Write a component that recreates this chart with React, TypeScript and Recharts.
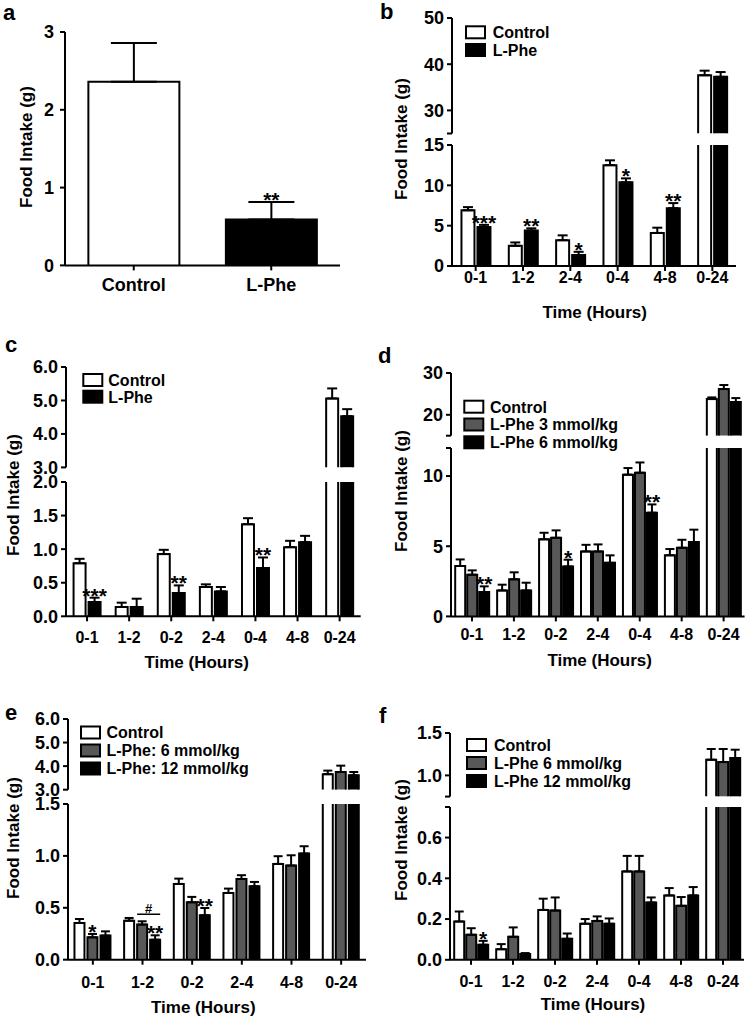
import React from 'react';
import { BarChart, Bar, XAxis, YAxis, ErrorBar } from 'recharts';

const FONT = '"Liberation Sans", Arial, Helvetica, sans-serif';
const WHITE = '#ffffff';
const GRAY = '#585858';
const BLACK = '#000000';

// ---------------- data ----------------
// Panel a
const aCategories = ['Control', 'L-Phe'];
const aMeans = [2.36, 0.59];
const aSem = [0.5, 0.225];
const aSig = ['', '**'];

// Panel b
const bCategories = ['0-1', '1-2', '2-4', '0-4', '4-8', '0-24'];
const bNames = ['Control', 'L-Phe'];
const bControl = [6.9, 2.5, 3.2, 12.5, 4.1, 37.6];
const bControlSem = [0.4, 0.42, 0.6, 0.6, 0.65, 1.0];
const bLPhe = [4.84, 4.39, 1.35, 10.37, 7.17, 37.26];
const bLPheSem = [0.26, 0.28, 0.41, 0.49, 0.63, 1.04];
const bLPheSig = ['***', '**', '*', '*', '**', ''];

// Panel c
const cCategories = ['0-1', '1-2', '0-2', '2-4', '0-4', '4-8', '0-24'];
const cNames = ['Control', 'L-Phe'];
const cControl = [0.79, 0.139, 0.926, 0.436, 1.371, 1.03, 5.06];
const cControlSem = [0.066, 0.064, 0.064, 0.04, 0.09, 0.094, 0.3];
const cLPhe = [0.213, 0.139, 0.347, 0.371, 0.718, 1.104, 4.53];
const cLPheSem = [0.064, 0.123, 0.113, 0.065, 0.158, 0.094, 0.21];
const cLPheSig = ['***', '', '**', '', '**', '', ''];

// Panel d
const dCategories = ['0-1', '1-2', '0-2', '2-4', '0-4', '4-8', '0-24'];
const dNames = ['Control', 'L-Phe 3 mmol/kg', 'L-Phe 6 mmol/kg'];
const dControl = [3.59, 1.85, 5.49, 4.63, 10.1, 4.35, 23.76];
const dControlSem = [0.47, 0.41, 0.47, 0.47, 0.47, 0.45, 0.4];
const dPhe3 = [2.97, 2.64, 5.6, 4.63, 10.24, 4.89, 26.16];
const dPhe3Sem = [0.31, 0.5, 0.53, 0.5, 0.73, 0.57, 0.96];
const dPhe6 = [1.73, 1.85, 3.56, 3.82, 7.39, 5.3, 23.04];
const dPhe6Sem = [0.41, 0.55, 0.48, 0.53, 0.59, 0.88, 0.96];
const dPhe6Sig = ['**', '', '*', '', '**', '', ''];

// Panel e
const eCategories = ['0-1', '1-2', '0-2', '2-4', '4-8', '0-24'];
const eNames = ['Control', 'L-Phe: 6 mmol/kg', 'L-Phe: 12 mmol/kg'];
const eControl = [0.354, 0.376, 0.73, 0.643, 0.923, 3.66];
const eControlSem = [0.038, 0.026, 0.051, 0.042, 0.074, 0.15];
const ePhe6 = [0.215, 0.338, 0.553, 0.778, 0.907, 3.75];
const ePhe6Sem = [0.033, 0.032, 0.052, 0.036, 0.099, 0.27];
const ePhe6Sig = ['*', '', '', '', '', ''];
const ePhe6vs12 = ['', '#', '', '', '', ''];
const ePhe12 = [0.232, 0.193, 0.428, 0.707, 1.023, 3.61];
const ePhe12Sem = [0.041, 0.042, 0.07, 0.042, 0.07, 0.14];
const ePhe12Sig = ['', '**', '**', '', '', ''];

// Panel f
const fCategories = ['0-1', '1-2', '0-2', '2-4', '0-4', '4-8', '0-24'];
const fNames = ['Control', 'L-Phe 6 mmol/kg', 'L-Phe 12 mmol/kg'];
const fControl = [0.188, 0.052, 0.245, 0.177, 0.434, 0.316, 1.185];
const fControlSem = [0.049, 0.025, 0.055, 0.023, 0.076, 0.036, 0.126];
const fPhe6 = [0.123, 0.113, 0.242, 0.191, 0.434, 0.265, 1.157];
const fPhe6Sem = [0.032, 0.046, 0.064, 0.022, 0.076, 0.043, 0.154];
const fPhe12 = [0.074, 0.028, 0.103, 0.177, 0.281, 0.316, 1.205];
const fPhe12Sem = [0.019, 0.005, 0.026, 0.026, 0.025, 0.041, 0.098];
const fPhe12Sig = ['*', '', '', '', '', '', ''];

// ---------------- helpers ----------------
type Series = {
  name: string;
  values: number[];
  errors: number[];
  sig?: string[];
  pair?: string[];
  fill: string | string[];
};

type Seg = {
  top: number;
  bottom: number;
  domain: [number, number];
  ticks: number[];
  labeled: number[];
};

function buildRows(categories: string[], series: Series[], seg: Seg, isUpper: boolean) {
  return categories.map((cat, i) => {
    const row: any = { cat, i };
    series.forEach((s, k) => {
      const v = s.values[i];
      const visible = isUpper ? v > seg.domain[0] : true;
      const errVisible = isUpper ? v > seg.domain[0] : v <= seg.domain[1];
      row[`v${k}`] = visible ? v : null;
      row[`e${k}`] = errVisible ? [0, s.errors[i]] : null;
      row[`g${k}`] = !isUpper && s.sig ? s.sig[i] : '';
      row[`p${k}`] = !isUpper && s.pair ? s.pair[i] : '';
    });
    return row;
  });
}

function makeBarShape(series: Series, k: number, base: number, barGap: number) {
  return (props: any) => {
    const { x, y, width, height, payload } = props;
    const v = payload ? payload[`v${k}`] : null;
    if (v == null || !(height > 0) || !(width > 0)) return <g />;
    const fill = Array.isArray(series.fill) ? series.fill[payload.i] : series.fill;
    const ppu = height / (v - base);
    const e = payload[`e${k}`];
    const errTop = e ? y - e[1] * ppu : y;
    const sig = payload[`g${k}`];
    const pair = payload[`p${k}`];
    return (
      <g>
        <rect x={x} y={y} width={width} height={height} fill={fill} stroke="none" />
        <path
          d={`M${x},${y + height} L${x},${y} L${x + width},${y} L${x + width},${y + height}`}
          fill="none"
          stroke="#000"
          strokeWidth={2}
        />
        {sig ? (
          <text x={x + width / 2} y={errTop + 5} textAnchor="middle" fontSize={21} fontWeight={700} fontFamily={FONT} fill="#000">
            {sig}
          </text>
        ) : null}
        {pair ? (
          <g>
            <line x1={x} x2={x + 2 * width + barGap} y1={errTop - 7} y2={errTop - 7} stroke="#000" strokeWidth={1.5} />
            <text x={x + width + barGap / 2} y={errTop - 8.5} textAnchor="middle" fontSize={13} fontWeight={700} fontFamily={FONT} fill="#000">
              {pair}
            </text>
          </g>
        ) : null}
      </g>
    );
  };
}

type SegProps = {
  categories: string[];
  series: Series[];
  left: number;
  right: number;
  seg: Seg;
  isUpper: boolean;
  showX: boolean;
  decimals: number;
  gap: string;
  barGap: number;
  cap: number;
  xTickMargin: number;
  xFont: number;
  yFont: number;
  yTickMargin: number;
};

function Segment(p: SegProps) {
  const yW = 60;
  const mT = 12;
  const mR = 12;
  const mB = p.showX ? 2 : 14;
  const xH = 40;
  const plotH = p.seg.bottom - p.seg.top;
  const width = yW + (p.right - p.left) + mR;
  const height = mT + plotH + (p.showX ? xH : 0) + mB;
  const rows = buildRows(p.categories, p.series, p.seg, p.isUpper);
  const base = p.seg.domain[0] > 0 ? p.seg.domain[0] : 0;
  const axisStyle = { stroke: '#000', strokeWidth: 2 };
  return (
    <div style={{ position: 'absolute', left: p.left - yW, top: p.seg.top - mT, width, height }}>
      <BarChart
        width={width}
        height={height}
        data={rows}
        margin={{ top: mT, right: mR, bottom: mB, left: 0 }}
        barCategoryGap={p.gap}
        barGap={p.barGap}
        style={{ overflow: 'visible' }}
      >
        <XAxis
          dataKey="cat"
          type="category"
          hide={!p.showX}
          interval={0}
          height={xH}
          axisLine={axisStyle}
          tickLine={axisStyle}
          tickSize={5}
          tickMargin={p.xTickMargin}
          tick={{ fill: '#000', fontSize: p.xFont, fontWeight: 700, fontFamily: FONT }}
        />
        <YAxis
          type="number"
          domain={p.seg.domain}
          ticks={p.seg.ticks}
          allowDataOverflow
          interval={0}
          width={yW}
          axisLine={axisStyle}
          tickLine={axisStyle}
          tickSize={5}
          tickMargin={p.yTickMargin}
          tick={{ fill: '#000', fontSize: p.yFont, fontWeight: 700, fontFamily: FONT }}
          tickFormatter={(v: number) => (p.seg.labeled.indexOf(v) >= 0 ? v.toFixed(p.decimals) : '')}
        />
        {p.series.map((s, k) => (
          <Bar
            key={k}
            dataKey={`v${k}`}
            fill={Array.isArray(s.fill) ? s.fill[0] : s.fill}
            isAnimationActive={false}
            shape={makeBarShape(s, k, base, p.barGap)}
          >
            <ErrorBar dataKey={`e${k}`} width={p.cap} strokeWidth={2} stroke="#000" direction="y" />
          </Bar>
        ))}
      </BarChart>
    </div>
  );
}

type PanelProps = {
  categories: string[];
  series: Series[];
  left: number;
  right: number;
  upper?: Seg;
  lower: Seg;
  decimals: number;
  gap: string;
  barGap: number;
  cap: number;
  xTickMargin: number;
  xFont?: number;
  yFont?: number;
  yTickMargin?: number;
};

function Panel(p: PanelProps) {
  const common = {
    categories: p.categories,
    series: p.series,
    left: p.left,
    right: p.right,
    decimals: p.decimals,
    gap: p.gap,
    barGap: p.barGap,
    cap: p.cap,
    xTickMargin: p.xTickMargin,
    xFont: p.xFont ?? 16,
    yFont: p.yFont ?? 18,
    yTickMargin: p.yTickMargin ?? 3,
  };
  return (
    <>
      {p.upper ? <Segment {...common} seg={p.upper} isUpper={true} showX={false} /> : null}
      <Segment {...common} seg={p.lower} isUpper={false} showX={true} />
    </>
  );
}

function LegendBlock({ x, y, pitch, textX, names, fills }: { x: number; y: number; pitch: number; textX: number; names: string[]; fills: string[] }) {
  return (
    <g>
      {names.map((n, i) => (
        <g key={i}>
          <rect x={x} y={y + i * pitch - 6} width={19} height={12} fill={fills[i]} stroke="#000" strokeWidth={2} />
          <text x={textX} y={y + i * pitch + 5.8} fontSize={16} fontWeight={700} fontFamily={FONT} fill="#000">
            {n}
          </text>
        </g>
      ))}
    </g>
  );
}

const Y_TITLE = 'Food Intake (g)';
const X_TITLE = 'Time (Hours)';

export default function App() {
  const twoFills = [WHITE, BLACK];
  const threeFills = [WHITE, GRAY, BLACK];

  const aSeries: Series[] = [{ name: 'Food intake', values: aMeans, errors: aSem, sig: aSig, fill: [WHITE, BLACK] }];
  const bSeries: Series[] = [
    { name: bNames[0], values: bControl, errors: bControlSem, fill: WHITE },
    { name: bNames[1], values: bLPhe, errors: bLPheSem, sig: bLPheSig, fill: BLACK },
  ];
  const cSeries: Series[] = [
    { name: cNames[0], values: cControl, errors: cControlSem, fill: WHITE },
    { name: cNames[1], values: cLPhe, errors: cLPheSem, sig: cLPheSig, fill: BLACK },
  ];
  const dSeries: Series[] = [
    { name: dNames[0], values: dControl, errors: dControlSem, fill: WHITE },
    { name: dNames[1], values: dPhe3, errors: dPhe3Sem, fill: GRAY },
    { name: dNames[2], values: dPhe6, errors: dPhe6Sem, sig: dPhe6Sig, fill: BLACK },
  ];
  const eSeries: Series[] = [
    { name: eNames[0], values: eControl, errors: eControlSem, fill: WHITE },
    { name: eNames[1], values: ePhe6, errors: ePhe6Sem, sig: ePhe6Sig, pair: ePhe6vs12, fill: GRAY },
    { name: eNames[2], values: ePhe12, errors: ePhe12Sem, sig: ePhe12Sig, fill: BLACK },
  ];
  const fSeries: Series[] = [
    { name: fNames[0], values: fControl, errors: fControlSem, fill: WHITE },
    { name: fNames[1], values: fPhe6, errors: fPhe6Sem, fill: GRAY },
    { name: fNames[2], values: fPhe12, errors: fPhe12Sem, sig: fPhe12Sig, fill: BLACK },
  ];

  const letters = [
    { t: 'a', x: 3, y: 20 },
    { t: 'b', x: 380, y: 18.5 },
    { t: 'c', x: 5, y: 352 },
    { t: 'd', x: 378, y: 363 },
    { t: 'e', x: 5, y: 720 },
    { t: 'f', x: 379, y: 723 },
  ];
  const yTitles = [
    { x: 26, y: 147 },
    { x: 401, y: 139 },
    { x: 13, y: 495 },
    { x: 401, y: 491 },
    { x: 13, y: 838 },
    { x: 400.5, y: 840 },
  ];
  const xTitles = [
    { x: 594.7, y: 311.7 },
    { x: 196.7, y: 661.7 },
    { x: 599.7, y: 660 },
    { x: 203.3, y: 1007 },
    { x: 593, y: 1004 },
  ];

  return (
    <div style={{ position: 'absolute', left: 0, top: 0, width: 746, height: 1019, overflow: 'hidden', background: '#fff', fontFamily: FONT }}>
      {/* a */}
      <Panel
        categories={aCategories}
        series={aSeries}
        left={65}
        right={340}
        lower={{ top: 32.3, bottom: 265.7, domain: [0, 3], ticks: [0, 1, 2, 3], labeled: [0, 1, 2, 3] }}
        decimals={0}
        gap="17%"
        barGap={0}
        cap={23}
        xTickMargin={8}
        xFont={18}
        yFont={18}
        yTickMargin={6}
      />
      {/* b */}
      <Panel
        categories={bCategories}
        series={bSeries}
        left={452}
        right={736}
        upper={{ top: 18.3, bottom: 133.8, domain: [25, 50], ticks: [25, 30, 40, 50], labeled: [30, 40, 50] }}
        lower={{ top: 145, bottom: 266, domain: [0, 15], ticks: [0, 5, 10, 15], labeled: [0, 5, 10, 15] }}
        decimals={0}
        gap="20%"
        barGap={3}
        cap={5}
        xTickMargin={1}
      />
      {/* c */}
      <Panel
        categories={cCategories}
        series={cSeries}
        left={66.3}
        right={361}
        upper={{ top: 367.3, bottom: 467.7, domain: [3, 6], ticks: [3, 4, 5, 6], labeled: [3, 4, 5, 6] }}
        lower={{ top: 481.7, bottom: 616, domain: [0, 2], ticks: [0, 0.5, 1, 1.5, 2], labeled: [0, 0.5, 1, 1.5, 2] }}
        decimals={1}
        gap="18%"
        barGap={3}
        cap={5}
        xTickMargin={10}
      />
      {/* d */}
      <Panel
        categories={dCategories}
        series={dSeries}
        left={450.7}
        right={744.3}
        upper={{ top: 373.3, bottom: 436, domain: [15, 30], ticks: [15, 20, 30], labeled: [20, 30] }}
        lower={{ top: 447.6, bottom: 616, domain: [0, 12], ticks: [0, 5, 10, 12], labeled: [0, 5, 10] }}
        decimals={0}
        gap="10%"
        barGap={2}
        cap={4.5}
        xTickMargin={7}
      />
      {/* e */}
      <Panel
        categories={eCategories}
        series={eSeries}
        left={67.8}
        right={365.8}
        upper={{ top: 719.3, bottom: 790, domain: [3, 6], ticks: [3, 4, 5, 6], labeled: [3, 4, 5, 6] }}
        lower={{ top: 804.3, bottom: 960, domain: [0, 1.5], ticks: [0, 0.5, 1, 1.5], labeled: [0, 0.5, 1, 1.5] }}
        decimals={1}
        gap="13%"
        barGap={3}
        cap={4.5}
        xTickMargin={12}
      />
      {/* f */}
      <Panel
        categories={fCategories}
        series={fSeries}
        left={450}
        right={744}
        upper={{ top: 733.3, bottom: 796.9, domain: [0.75, 1.5], ticks: [0.75, 1, 1.5], labeled: [1, 1.5] }}
        lower={{ top: 807.2, bottom: 960, domain: [0, 0.75], ticks: [0, 0.2, 0.4, 0.6, 0.75], labeled: [0, 0.2, 0.4, 0.6] }}
        decimals={1}
        gap="10%"
        barGap={2}
        cap={4.5}
        xTickMargin={11}
      />

      <svg width={746} height={1019} style={{ position: 'absolute', left: 0, top: 0, pointerEvents: 'none' }}>
        {letters.map((l) => (
          <text key={l.t} x={l.x} y={l.y} fontSize={22} fontWeight={700} fontFamily={FONT} fill="#000">
            {l.t}
          </text>
        ))}
        {yTitles.map((t, i) => (
          <text
            key={`y${i}`}
            x={t.x}
            y={t.y}
            dy="0.36em"
            transform={`rotate(-90 ${t.x} ${t.y})`}
            textAnchor="middle"
            fontSize={17}
            fontWeight={700}
            fontFamily={FONT}
            fill="#000"
          >
            {Y_TITLE}
          </text>
        ))}
        {xTitles.map((t, i) => (
          <text key={`x${i}`} x={t.x} y={t.y} dy="0.36em" textAnchor="middle" fontSize={17} fontWeight={700} fontFamily={FONT} fill="#000">
            {X_TITLE}
          </text>
        ))}
        <LegendBlock x={466} y={32.3} pitch={17.7} textX={492.7} names={bNames} fills={twoFills} />
        <LegendBlock x={83.3} y={380} pitch={16.7} textX={108.3} names={cNames} fills={twoFills} />
        <LegendBlock x={464.3} y={406.7} pitch={17.8} textX={490} names={dNames} fills={threeFills} />
        <LegendBlock x={81} y={732.5} pitch={18} textX={106.5} names={eNames} fills={threeFills} />
        <LegendBlock x={467} y={745} pitch={18} textX={494} names={fNames} fills={threeFills} />
      </svg>
    </div>
  );
}
